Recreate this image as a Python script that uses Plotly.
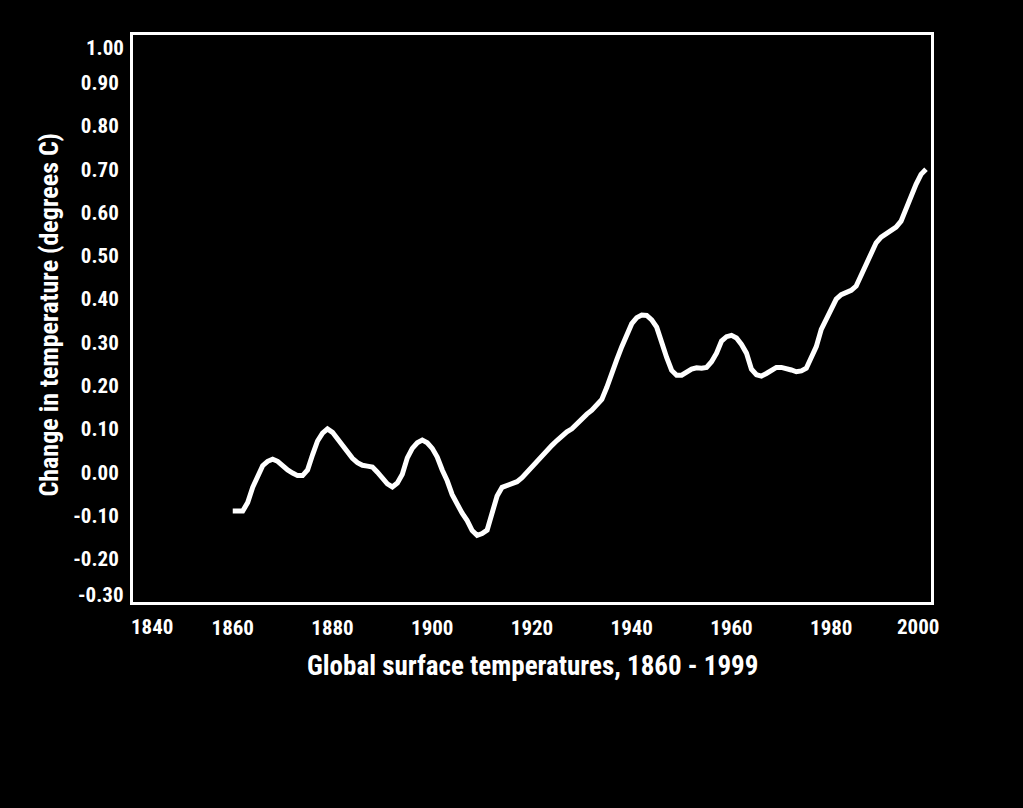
import plotly.graph_objects as go

# ---- data ----
years = list(range(1860, 2000))
temps = [
    -0.09, -0.09, -0.09, -0.07, -0.035, -0.01, 0.015, 0.025, 0.03, 0.025,   # 1860-1869
    0.013, 0.005, -0.002, -0.008, -0.008, 0.005, 0.04, 0.072, 0.09, 0.10,   # 1870-1879
    0.092, 0.076, 0.06, 0.045, 0.032, 0.022, 0.016, 0.014, 0.012, 0.0,      # 1880-1889
    -0.015, -0.027, -0.034, -0.025, -0.005, 0.033, 0.055, 0.068, 0.074, 0.068,  # 1890-1899
    0.055, 0.035, 0.005, -0.02, -0.052, -0.075, -0.095, -0.112, -0.135, -0.146,  # 1900-1909
    -0.142, -0.134, -0.095, -0.055, -0.035, -0.03, -0.025, -0.022, -0.013, 0.0,  # 1910-1919
    0.012, 0.025, 0.035, 0.048, 0.062, 0.073, 0.085, 0.093, 0.10, 0.112,    # 1920-1929
    0.125, 0.134, 0.143, 0.155, 0.168, 0.196, 0.232, 0.26, 0.29, 0.316,     # 1930-1939
    0.343, 0.357, 0.363, 0.362, 0.352, 0.335, 0.298, 0.265, 0.235, 0.224,   # 1940-1949
    0.224, 0.232, 0.238, 0.241, 0.24, 0.242, 0.255, 0.275, 0.303, 0.313,    # 1950-1959
    0.316, 0.31, 0.295, 0.275, 0.238, 0.225, 0.222, 0.228, 0.236, 0.242,    # 1960-1969
    0.242, 0.24, 0.236, 0.232, 0.234, 0.24, 0.265, 0.29, 0.33, 0.352,       # 1970-1979
    0.38, 0.40, 0.41, 0.414, 0.42, 0.43, 0.456, 0.48, 0.507, 0.53,          # 1980-1989
    0.543, 0.55, 0.558, 0.566, 0.58, 0.61, 0.64, 0.665, 0.688, 0.70,       # 1990-1999
]

x_ticks = [1860, 1880, 1900, 1920, 1940, 1960, 1980]
x_end_ticks = [1840, 2000]
y_ticks = [-0.2, -0.1, 0.0, 0.1, 0.2, 0.3, 0.4, 0.5, 0.6, 0.7, 0.8, 0.9]
y_end_ticks = [-0.3, 1.0]

x_title = "Global surface temperatures, 1860 - 1999"
y_title = "Change in temperature (degrees C)"

FONT = "Roboto Condensed, Liberation Sans Narrow, Arial Narrow, DejaVu Sans Condensed, Roboto, sans-serif"
tick_font = dict(family=FONT, size=21, color="white", weight="bold")

fig = go.Figure()
fig.add_trace(go.Scatter(
    x=years, y=temps, mode="lines",
    line=dict(color="white", width=5),
    showlegend=False, hoverinfo="skip",
))

fig.update_layout(
    width=1023, height=808,
    paper_bgcolor="black", plot_bgcolor="black",
    margin=dict(l=133, r=92, t=35, b=206),
    showlegend=False,
)

fig.update_xaxes(
    range=[1840, 2000], showgrid=False, zeroline=False,
    showline=True, mirror=True, linecolor="white", linewidth=3,
    ticks="", tickvals=x_ticks, ticktext=[str(v) for v in x_ticks],
    tickfont=tick_font, ticklabelstandoff=5,
)
fig.update_yaxes(
    range=[-0.30, 1.01], showgrid=False, zeroline=False,
    showline=True, mirror=True, linecolor="white", linewidth=3,
    ticks="", tickvals=y_ticks, ticktext=[f"{v:.2f}" for v in y_ticks],
    tickfont=tick_font, ticklabelstandoff=7,
)

# end labels sit slightly inside the frame corners in the reference
fig.add_annotation(x=x_end_ticks[0], y=0, xref="x", yref="paper", text=str(x_end_ticks[0]),
                   showarrow=False, xanchor="center", yanchor="top", xshift=19, yshift=-11,
                   font=tick_font)
fig.add_annotation(x=x_end_ticks[1], y=0, xref="x", yref="paper", text=str(x_end_ticks[1]),
                   showarrow=False, xanchor="center", yanchor="top", xshift=-13, yshift=-11,
                   font=tick_font)
fig.add_annotation(x=0, y=y_end_ticks[0], xref="paper", yref="y", text=f"{y_end_ticks[0]:.2f}",
                   showarrow=False, xanchor="right", yanchor="middle", xshift=-7, yshift=7,
                   font=tick_font)
fig.add_annotation(x=0, y=y_end_ticks[1], xref="paper", yref="y", text=f"{y_end_ticks[1]:.2f}",
                   showarrow=False, xanchor="right", yanchor="middle", xshift=-7, yshift=-9,
                   font=tick_font)

# axis titles
fig.add_annotation(x=0.5, y=0, xref="paper", yref="paper", text=x_title,
                   showarrow=False, xanchor="center", yanchor="middle", yshift=-64,
                   font=dict(family=FONT, size=27, color="white", weight="bold"))
fig.add_annotation(x=0, y=0.5, xref="paper", yref="paper", text=y_title, textangle=-90,
                   showarrow=False, xanchor="center", yanchor="middle", xshift=-85, yshift=3,
                   font=dict(family=FONT, size=26, color="white", weight="bold"))

fig.write_html("out.html")
